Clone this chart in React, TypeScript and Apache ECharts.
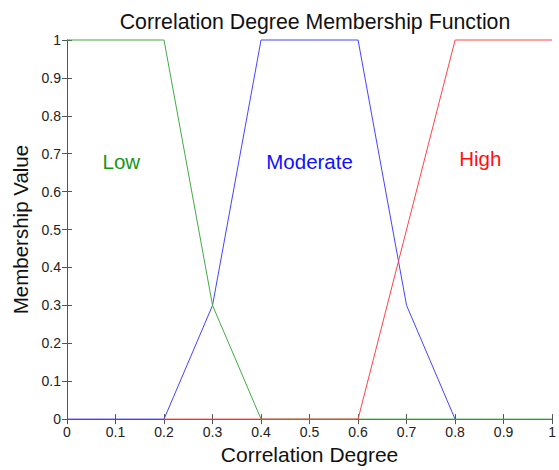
import React, { useEffect, useRef } from "react";
import * as echarts from "echarts";

const xTicks = [0, 0.1, 0.2, 0.3, 0.4, 0.5, 0.6, 0.7, 0.8, 0.9, 1];
const yTicks = [0, 0.1, 0.2, 0.3, 0.4, 0.5, 0.6, 0.7, 0.8, 0.9, 1];

const lowX = [0, 0.2, 0.3, 0.4, 1];
const lowY = [1, 1, 0.3, 0, 0];
const modX = [0, 0.2, 0.3, 0.4, 0.6, 0.7, 0.8];
const modY = [0, 0, 0.3, 1, 1, 0.3, 0];
const highX = [0.2, 0.6, 0.8, 1];
const highY = [0, 0, 1, 1];

const labelNames = ["Low", "Moderate", "High"];
const labelX = [0.112, 0.5, 0.852];
const labelY = [0.68, 0.68, 0.688];
const labelColors = ["#169616", "#1010ff", "#ff1010"];

const FONT = "Liberation Sans, Arial, sans-serif";

function zip(xs: number[], ys: number[]) {
  return xs.map((x, i) => [x, ys[i]]);
}

function fmt(v: number) {
  return String(Math.round(v * 10) / 10);
}

export default function App() {
  const ref = useRef<HTMLDivElement>(null);
  useEffect(() => {
    document.body.style.margin = "0";
    const chart = echarts.init(ref.current!, null, { renderer: "svg" });
    const axisLine = { show: true, lineStyle: { color: "#555", width: 1 } };
    const tick = { show: true, inside: true, length: 5, lineStyle: { color: "#555" } };
    chart.setOption({
      animation: false,
      backgroundColor: "#ffffff",
      title: {
        text: "Correlation Degree Membership Function",
        left: 310,
        textAlign: "center",
        top: 6,
        textStyle: { fontFamily: FONT, fontSize: 21.3, fontWeight: "normal", color: "#111" },
      },
      grid: { left: 67, right: 6, top: 40, bottom: 46 },
      xAxis: [
        {
          type: "value",
          min: 0,
          max: 1,
          interval: 0.1,
          position: "bottom",
          name: "Correlation Degree",
          nameLocation: "middle",
          nameGap: 24,
          nameTextStyle: { fontFamily: FONT, fontSize: 21, color: "#111" },
          axisLine,
          axisTick: tick,
          splitLine: { show: false },
          axisLabel: { fontFamily: FONT, fontSize: 14, color: "#222", margin: 6, formatter: fmt },
        },
        {
          type: "value",
          min: 0,
          max: 1,
          interval: 0.1,
          position: "top",
          axisLine,
          axisTick: tick,
          splitLine: { show: false },
          axisLabel: { show: false },
        },
      ],
      yAxis: [
        {
          type: "value",
          min: 0,
          max: 1,
          interval: 0.1,
          position: "left",
          name: "Membership Value",
          nameLocation: "middle",
          nameGap: 34,
          nameTextStyle: { fontFamily: FONT, fontSize: 20.5, color: "#111" },
          axisLine,
          axisTick: tick,
          splitLine: { show: false },
          axisLabel: { fontFamily: FONT, fontSize: 14, color: "#222", margin: 6, formatter: fmt },
        },
        {
          type: "value",
          min: 0,
          max: 1,
          interval: 0.1,
          position: "right",
          axisLine,
          axisTick: tick,
          splitLine: { show: false },
          axisLabel: { show: false },
        },
      ],
      series: [
        {
          name: "Moderate",
          type: "line",
          data: zip(modX, modY),
          symbol: "none",
          clip: false,
          lineStyle: { color: "#4444ff", width: 1 },
          z: 3,
        },
        {
          name: "Low",
          type: "line",
          data: zip(lowX, lowY),
          symbol: "none",
          clip: false,
          lineStyle: { color: "#44aa44", width: 1 },
          z: 4,
        },
        {
          name: "High",
          type: "line",
          data: zip(highX, highY),
          symbol: "none",
          clip: false,
          lineStyle: { color: "#ff4444", width: 1 },
          z: 5,
        },
        {
          name: "labels",
          type: "scatter",
          symbolSize: 0,
          z: 6,
          itemStyle: { opacity: 1 },
          data: labelNames.map((n, i) => ({
            value: [labelX[i], labelY[i]],
            label: {
              show: true,
              position: "inside",
              formatter: n,
              fontFamily: FONT,
              fontSize: 20.5,
              color: labelColors[i],
              opacity: 1,
            },
          })),
        },
      ],
    });
    return () => chart.dispose();
  }, []);
  return <div ref={ref} style={{ position: "absolute", left: 0, top: 0, width: 559, height: 470 }} />;
}
